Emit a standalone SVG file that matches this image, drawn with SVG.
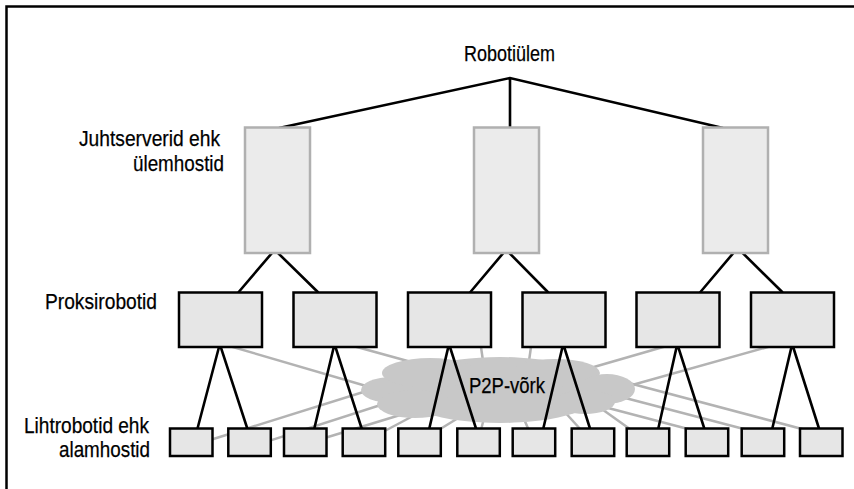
<svg xmlns="http://www.w3.org/2000/svg" width="854" height="489" viewBox="0 0 854 489">
  <style>
    .lbl { font-family: "Liberation Sans Narrow", "Liberation Sans", Arial, sans-serif; font-size: 22px; fill: #000; stroke: #000; stroke-width: 0.25; }
    .master { fill: #ebebeb; stroke: #b0b0b0; stroke-width: 2.5; }
    .proxy, .leaf { fill: #e6e6e6; stroke: #000; stroke-width: 2.5; }
    .p2p { fill: none; stroke: #b3b3b3; stroke-width: 2.5; }
    .link { fill: none; stroke: #000; stroke-width: 2.6; stroke-linejoin: miter; }
    .cloud { fill: #c8c8c8; }
  </style>

  <rect width="854" height="489" fill="#fff"/>
  <!-- outer frame (right and bottom edges fall outside the canvas) -->
  <rect x="6.5" y="6.5" width="900" height="600" fill="none" stroke="#000" stroke-width="2.5"/>

  <!-- P2P links: proxies and leaf robots into the cloud -->
  <g id="p2p-links" class="p2p">
    <line x1="219" y1="343" x2="373" y2="388"/>
    <line x1="346" y1="344" x2="433" y2="368"/>
    <line x1="480" y1="340" x2="484" y2="368"/>
    <line x1="532" y1="340" x2="528" y2="368"/>
    <line x1="677" y1="343" x2="580" y2="371"/>
    <line x1="782" y1="343" x2="625" y2="387"/>
    <line x1="191" y1="446" x2="373" y2="389"/>
    <line x1="250" y1="447" x2="390" y2="402"/>
    <line x1="305" y1="444" x2="410" y2="412"/>
    <line x1="364" y1="442" x2="428" y2="408"/>
    <line x1="419" y1="442" x2="468" y2="412"/>
    <line x1="478" y1="442" x2="486" y2="410"/>
    <line x1="534" y1="442" x2="520" y2="410"/>
    <line x1="592" y1="442" x2="552" y2="398"/>
    <line x1="648" y1="442" x2="592" y2="402"/>
    <line x1="707" y1="434" x2="593" y2="404"/>
    <line x1="763" y1="434" x2="610" y2="394"/>
    <line x1="821" y1="434" x2="625" y2="382"/>
  </g>

  <!-- P2P network cloud -->
  <g id="p2p-cloud">
    <g class="cloud">
      <ellipse cx="500" cy="390" rx="105" ry="33"/>
      <ellipse cx="392" cy="390" rx="31" ry="13"/>
      <ellipse cx="415" cy="404" rx="38" ry="14"/>
      <ellipse cx="430" cy="373" rx="48" ry="15"/>
      <ellipse cx="555" cy="373" rx="45" ry="14"/>
      <ellipse cx="607" cy="389" rx="28" ry="15"/>
      <ellipse cx="585" cy="402" rx="30" ry="12"/>
    </g>
    <text class="lbl" x="469" y="393" textLength="76" lengthAdjust="spacingAndGlyphs">P2P-võrk</text>
  </g>

  <!-- hierarchy links -->
  <g id="links" class="link">
    <path d="M279,128 L510,78 L723,128 M510,78 V128"/>
    <polyline points="238.3,292.5 274.7,249.8 318.3,292.5"/>
    <polyline points="470,292.5 506.1,249.7 548.3,292.5"/>
    <polyline points="700,292.5 737.6,248 782.7,292.5"/>
    <polyline points="197.5,428.5 219.8,344 247.3,428.5"/>
    <polyline points="314.3,428.5 334.5,344 361.7,428.5"/>
    <polyline points="429.3,428.5 449,344 476,428.5"/>
    <polyline points="543.3,428.5 563.2,344 590,428.5"/>
    <polyline points="658.3,428.5 677.3,344 704.3,428.5"/>
    <polyline points="772.3,428.5 792.2,344 819,428.5"/>
  </g>

  <!-- master servers -->
  <g id="master-1"><rect class="master" x="245" y="127.5" width="65" height="125.5"/></g>
  <g id="master-2"><rect class="master" x="474" y="127.5" width="65" height="125.5"/></g>
  <g id="master-3"><rect class="master" x="703" y="127.5" width="65" height="125.5"/></g>

  <!-- proxy robots -->
  <g id="proxy-1"><rect class="proxy" x="179" y="292.5" width="83" height="54.5"/></g>
  <g id="proxy-2"><rect class="proxy" x="293.5" y="292.5" width="83" height="54.5"/></g>
  <g id="proxy-3"><rect class="proxy" x="408" y="292.5" width="83" height="54.5"/></g>
  <g id="proxy-4"><rect class="proxy" x="522.5" y="292.5" width="83" height="54.5"/></g>
  <g id="proxy-5"><rect class="proxy" x="636.5" y="292.5" width="83" height="54.5"/></g>
  <g id="proxy-6"><rect class="proxy" x="751" y="292.5" width="83" height="54.5"/></g>

  <!-- leaf robots -->
  <g id="leaf-1"><rect class="leaf" x="170" y="428.5" width="42.5" height="27.5"/></g>
  <g id="leaf-2"><rect class="leaf" x="228.3" y="428.5" width="42.5" height="27.5"/></g>
  <g id="leaf-3"><rect class="leaf" x="284" y="428.5" width="42.5" height="27.5"/></g>
  <g id="leaf-4"><rect class="leaf" x="342.7" y="428.5" width="42.5" height="27.5"/></g>
  <g id="leaf-5"><rect class="leaf" x="398.3" y="428.5" width="42.5" height="27.5"/></g>
  <g id="leaf-6"><rect class="leaf" x="457.3" y="428.5" width="42.5" height="27.5"/></g>
  <g id="leaf-7"><rect class="leaf" x="512.7" y="428.5" width="42.5" height="27.5"/></g>
  <g id="leaf-8"><rect class="leaf" x="571.7" y="428.5" width="42.5" height="27.5"/></g>
  <g id="leaf-9"><rect class="leaf" x="626.7" y="428.5" width="42.5" height="27.5"/></g>
  <g id="leaf-10"><rect class="leaf" x="685.7" y="428.5" width="42.5" height="27.5"/></g>
  <g id="leaf-11"><rect class="leaf" x="741.7" y="428.5" width="42.5" height="27.5"/></g>
  <g id="leaf-12"><rect class="leaf" x="800" y="428.5" width="42.5" height="27.5"/></g>

  <!-- tier labels -->
  <g id="robot-team"><text class="lbl" x="464" y="61" textLength="91" lengthAdjust="spacingAndGlyphs">Robotiülem</text></g>
  <text class="lbl" x="79" y="146" textLength="141" lengthAdjust="spacingAndGlyphs">Juhtserverid ehk</text>
  <text class="lbl" x="133" y="171" textLength="91" lengthAdjust="spacingAndGlyphs">ülemhostid</text>
  <text class="lbl" x="45" y="309" textLength="112" lengthAdjust="spacingAndGlyphs">Proksirobotid</text>
  <text class="lbl" x="24" y="433" textLength="125" lengthAdjust="spacingAndGlyphs">Lihtrobotid ehk</text>
  <text class="lbl" x="59" y="457" textLength="91" lengthAdjust="spacingAndGlyphs">alamhostid</text>
</svg>
